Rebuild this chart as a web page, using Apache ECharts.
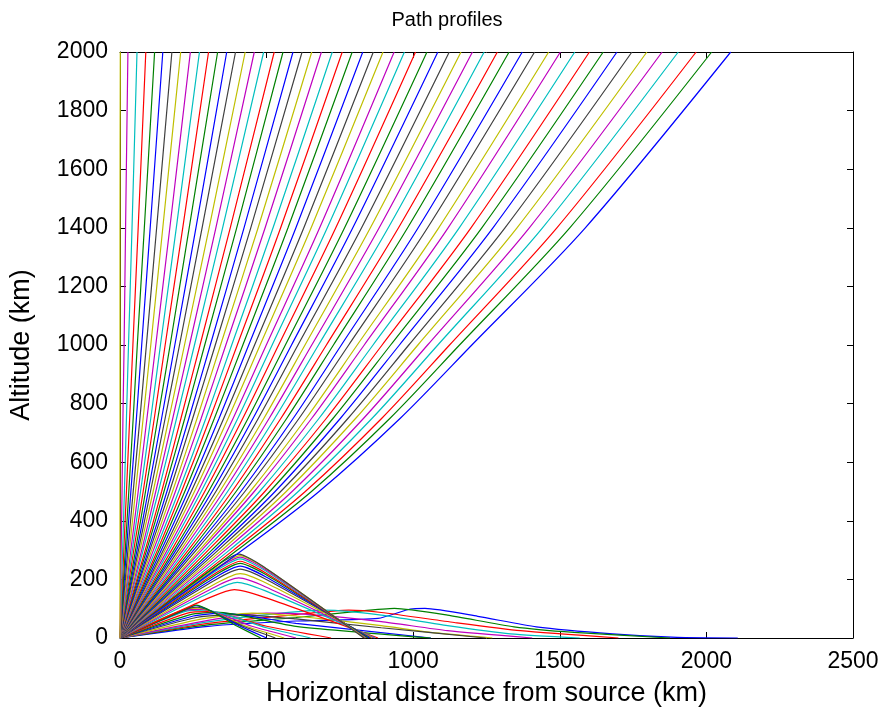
<!DOCTYPE html>
<html><head><meta charset="utf-8">
<script src="https://cdn.jsdelivr.net/npm/echarts@6/dist/echarts.min.js"></script>
<style>html,body{margin:0;padding:0;background:#fff}#c{width:884px;height:712px}</style>
</head><body><div id="c"></div><script>
// ---- data (km) ----
const xTickValues = [0, 500, 1000, 1500, 2000, 2500];
const yTickValues = [0, 200, 400, 600, 800, 1000, 1200, 1400, 1600, 1800, 2000];

// escaping rays (lowest elevation first): x (km) where each ray crosses these altitudes
const escapeAltLevels = [0, 300, 500, 750, 1000, 1400, 2000];
const escapeX300 = [418,400,387,373,359,347,335,324,313,301,290,279,271,260,251,242,233,224,215,207,199,191,184,176,168,161,154,148,141,134,128,121,114,108,102,97,91,86,79,74,68,63,58,53,47,42,37,32,27,22,18,13,9,4,0];
const escapeX500 = [679,653,632,608,587,567,548,529,511,494,476,458,444,426,412,396,382,367,353,340,327,314,302,289,277,266,254,243,232,221,210,200,189,179,169,160,150,142,131,122,113,104,96,87,79,70,62,53,45,37,30,22,15,7,0];
const escapeX750 = [956,921,893,860,831,804,778,752,727,704,679,654,635,611,591,569,549,528,509,491,472,454,437,419,402,386,369,354,338,322,307,293,277,263,248,235,221,208,193,180,167,154,142,129,117,105,92,79,68,56,45,33,22,10,0];
const escapeX1000 = [1200,1158,1124,1084,1049,1016,985,953,923,894,863,833,809,780,755,728,704,677,654,631,607,585,564,541,519,499,478,459,439,419,400,381,361,343,325,308,289,273,254,237,220,203,187,171,154,138,122,105,90,74,59,44,29,14,0];
const escapeX1400 = [1587,1534,1490,1441,1396,1354,1313,1272,1234,1197,1157,1119,1087,1049,1017,981,950,915,884,854,824,794,766,736,707,681,652,627,600,573,548,522,495,471,446,423,398,376,350,327,304,280,259,236,214,192,170,146,125,103,83,62,41,19,0];
const escapeX2000 = [2083,2018,1965,1904,1849,1797,1746,1695,1648,1601,1551,1502,1462,1414,1372,1327,1287,1242,1202,1163,1123,1084,1047,1008,970,935,897,864,828,792,758,724,687,654,621,590,556,526,490,458,427,394,364,333,302,271,240,207,177,146,118,88,58,27,1];

// rays turned back below ~110 km (lowest elevations first)
const lowLayerRays = [
  [[0,0],[300,40],[600,58],[880,67],[990,99],[1040,101],[1220,74],[1420,38],[1680,14],[1900,2],[2107,0]],
  [[0,0],[300,45],[600,70],[800,90],[936,101],[1117,78],[1344,38],[1548,19],[1876,0]],
  [[0,0],[300,50],[600,80],[780,95],[891,87],[1140,53],[1366,25],[1700,0]],
  [[0,0],[300,55],[550,85],[700,95],[891,78],[1117,42],[1332,14],[1568,0]],
  [[0,0],[300,60],[500,85],[650,80],[891,56],[1117,25],[1406,0]],
  [[0,0],[280,65],[450,85],[600,75],[891,42],[1060,19],[1270,0]],
  [[0,0],[260,70],[400,80],[600,65],[891,35],[1247,0]],
  [[0,0],[250,75],[350,85],[600,50],[1060,0]],
  [[0,0],[240,80],[330,88],[600,40],[1060,0]],
  [[0,0],[230,85],[300,90],[500,40],[720,0]],
  [[0,0],[220,90],[290,95],[500,35],[650,0]],
  [[0,0],[220,95],[280,98],[450,40],[600,0]],
  [[0,0],[230,100],[270,102],[430,40],[560,0]],
  [[0,0],[240,103],[265,105],[420,40],[530,0]],
  [[0,0],[245,108],[260,110],[410,40],[500,0]],
  [[0,0],[250,110],[260,112],[400,40],[480,0]]
];
// rays turned back at 160-290 km
const highLayerPeakX = [390,400,405,410,410,410,410,410,410,410,410,405];
const highLayerPeakAlt = [165,190,205,220,235,245,255,262,270,276,281,286];
const highLayerShoulderUpX = [312,320,324,328,328,328,328,328,328,328,328,324];
const highLayerShoulderDownX = [488,494,497,500,499,498,497,496,496,495,495,490];
const highLayerEndX = [880,870,865,860,855,850,845,840,838,836,834,832];
const shoulderFrac = 0.85;

// ---- build ----
const cycle = ['#0000ff','#008000','#ff0000','#00bfbf','#bf00bf','#bfbf00','#404040'];
const series = [];
let idx = 0;
function addRay(pts, smooth){
  series.push({type:'line', data:pts, showSymbol:false, silent:true, animation:false,
    smooth: smooth || false,
    lineStyle:{width:1.2, color:cycle[idx % 7]}, xAxisIndex:0, yAxisIndex:0});
  idx++;
}
lowLayerRays.forEach(r => addRay(r, 0.2));
highLayerPeakX.forEach((px,i) => {
  const h = highLayerPeakAlt[i];
  addRay([[0,0],[highLayerShoulderUpX[i],h*shoulderFrac],[px,h],
          [highLayerShoulderDownX[i],h*shoulderFrac],[highLayerEndX[i],0]], 0.2);
});
escapeX2000.forEach((t,i) => {
  const xs = [0, escapeX300[i], escapeX500[i], escapeX750[i], escapeX1000[i], escapeX1400[i], t];
  addRay(xs.map((x,k) => [x, escapeAltLevels[k]]), 0.3);
});

const font = 'Liberation Sans, Arial, Helvetica, sans-serif';
const axisCommon = {
  axisLine:{show:true, onZero:false, lineStyle:{color:'#000', width:1}},
  axisTick:{show:true, inside:true, length:6, lineStyle:{color:'#000'}},
  splitLine:{show:false}
};
const plainLabel = v => String(v);
const chart = echarts.init(document.getElementById('c'), null, {renderer:'canvas'});
chart.setOption({
  backgroundColor:'#fff',
  animation:false,
  title:{text:'Path profiles', left:442, top:5, textAlign:'center',
    textStyle:{fontFamily:font, fontSize:20, fontWeight:'normal', color:'#000'}},
  grid:{left:118, top:52, width:735, height:587, show:false},
  xAxis:[
    Object.assign({type:'value', min:0, max:2500, interval:500, position:'bottom',
      name:'Horizontal distance from source (km)', nameLocation:'middle', nameGap:42,
      nameTextStyle:{fontFamily:font, fontSize:27, color:'#000'},
      axisLabel:{fontFamily:font, fontSize:23, color:'#000', margin:12, formatter:plainLabel}}, axisCommon),
    Object.assign({type:'value', min:0, max:2500, interval:500, position:'top',
      axisLabel:{show:false}}, axisCommon)
  ],
  yAxis:[
    Object.assign({type:'value', min:0, max:2000, interval:200, position:'left',
      name:'Altitude (km)', nameLocation:'middle', nameGap:85, nameRotate:90,
      nameTextStyle:{fontFamily:font, fontSize:27, color:'#000'},
      axisLabel:{fontFamily:font, fontSize:23, color:'#000', margin:12, formatter:plainLabel}}, axisCommon),
    Object.assign({type:'value', min:0, max:2000, interval:200, position:'right',
      axisLabel:{show:false}}, axisCommon)
  ],
  series: series
});
</script></body></html>
